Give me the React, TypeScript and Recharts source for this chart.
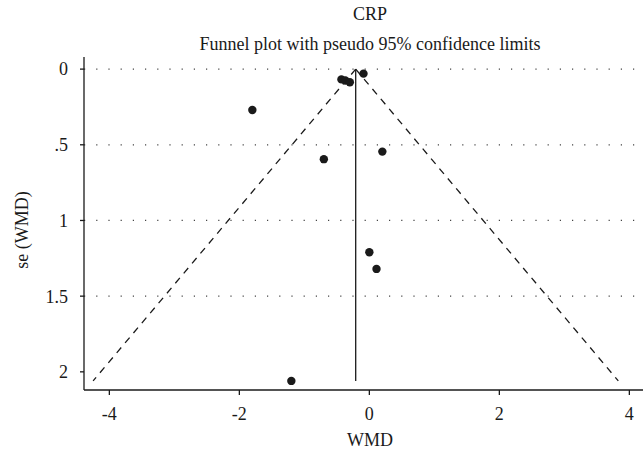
import React from 'react';
import { ScatterChart, Scatter, XAxis, YAxis, ReferenceLine } from 'recharts';

const xTicks = [-4, -2, 0, 2, 4];
const yTicks = [0, 0.5, 1, 1.5, 2];
const yTickLabels = ['0', '.5', '1', '1.5', '2'];
const gridSe = [0, 0.5, 1, 1.5];

// study estimates
const studyWmd = [-0.09, -0.43, -0.37, -0.3, -1.8, -0.7, 0.2, 0.0, 0.11, -1.2];
const studySe = [0.03, 0.068, 0.075, 0.087, 0.27, 0.595, 0.545, 1.21, 1.32, 2.06];

// pseudo 95% limits
const pooledWmd = -0.21;
const funnelBottomSe = 2.06;
const funnelLeftWmd = -4.25;
const funnelRightWmd = 3.83;

const FONT = '"Times New Roman", "Liberation Serif", Times, serif';
const INK = '#1a1a1a';

const points = studyWmd.map((x, i) => ({ x, y: studySe[i] }));

const Dot = (props: any) => {
  const { cx, cy } = props;
  if (cx == null || cy == null) return null;
  return <circle cx={cx} cy={cy} r={4.2} fill={INK} />;
};

const App: React.FC = () => {
  return (
    <div style={{ position: 'absolute', left: 0, top: 0, width: 644, height: 453, background: '#fff', fontFamily: FONT }}>
      <style>{`svg text, .recharts-text { font-family: ${FONT} !important; }`}</style>
      <ScatterChart width={644} height={453} margin={{ top: 57, right: 1, bottom: 33, left: 24 }}>
        <XAxis
          type="number"
          dataKey="x"
          domain={[-4.39, 4.21]}
          ticks={xTicks}
          allowDataOverflow
          height={30}
          stroke={INK}
          strokeWidth={1.3}
          tickSize={5}
          tickMargin={12}
          tick={{ fill: INK, fontSize: 18, fontFamily: FONT }}
        />
        <YAxis
          type="number"
          dataKey="y"
          domain={[-0.08, 2.12]}
          reversed
          ticks={yTicks}
          allowDataOverflow
          width={60}
          stroke={INK}
          strokeWidth={1.3}
          tickSize={4}
          tickMargin={12}
          tickFormatter={(v: number) => yTickLabels[yTicks.indexOf(v)] ?? String(v)}
          tick={{ fill: INK, fontSize: 18, fontFamily: FONT }}
        />
        {gridSe.map((s) => (
          <ReferenceLine key={s} y={s} stroke="#444" strokeDasharray="1.2 11" strokeWidth={1.3} />
        ))}
        <ReferenceLine
          segment={[{ x: pooledWmd, y: 0 }, { x: funnelLeftWmd, y: funnelBottomSe }]}
          stroke={INK}
          strokeWidth={1.3}
          strokeDasharray="7 6"
        />
        <ReferenceLine
          segment={[{ x: pooledWmd, y: 0 }, { x: funnelRightWmd, y: funnelBottomSe }]}
          stroke={INK}
          strokeWidth={1.3}
          strokeDasharray="7 6"
        />
        <ReferenceLine
          segment={[{ x: pooledWmd, y: 0 }, { x: pooledWmd, y: funnelBottomSe }]}
          stroke={INK}
          strokeWidth={1.3}
        />
        <Scatter data={points} shape={<Dot />} isAnimationActive={false} />
      </ScatterChart>
      <div style={{ position: 'absolute', left: 0, width: 740, top: 3, textAlign: 'center', fontSize: 18, color: INK, lineHeight: '22px' }}>
        CRP
      </div>
      <div style={{ position: 'absolute', left: 0, width: 740, top: 33, textAlign: 'center', fontSize: 18, color: INK, lineHeight: '22px' }}>
        Funnel plot with pseudo 95% confidence limits
      </div>
      <div style={{ position: 'absolute', left: 0, width: 740, top: 429, textAlign: 'center', fontSize: 18, color: INK, lineHeight: '22px' }}>
        WMD
      </div>
      <div
        style={{
          position: 'absolute',
          left: 22,
          top: 230,
          transform: 'translate(-50%, -50%) rotate(-90deg)',
          whiteSpace: 'nowrap',
          fontSize: 18,
          color: INK,
          lineHeight: '22px',
        }}
      >
        se (WMD)
      </div>
    </div>
  );
};

export default App;
